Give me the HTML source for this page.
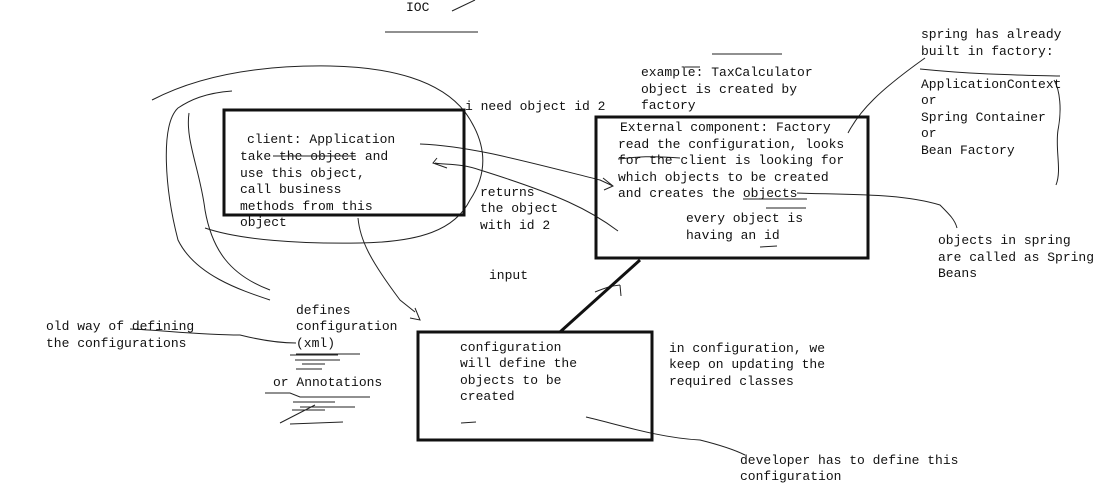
<!DOCTYPE html>
<html><head><meta charset="utf-8"><style>
html,body{margin:0;padding:0;background:#fff;width:1116px;height:502px;overflow:hidden}
svg text{font-family:"Liberation Mono",monospace;font-size:13px;fill:#111}
</style></head><body>
<svg width="1116" height="502" viewBox="0 0 1116 502" xmlns="http://www.w3.org/2000/svg">
<g fill="none" stroke="#222" stroke-width="1">
<path d="M452 11 L475 0"/>
<path d="M385 32 L478 32"/>
<path d="M712 54 L782 54"/>
<!-- ovals around client -->
<path d="M152 100 C200 75 260 65 330 66 C390 67 440 80 465 112 C485 140 490 170 470 200 C455 230 420 242 360 243 C300 244 240 240 205 228"/>
<path d="M232 91 C205 93 190 100 178 108 C160 125 165 190 178 240 C195 275 240 290 270 300"/>
<path d="M189 113 C185 140 200 170 205 210 C212 250 230 275 270 290"/>
<!-- arrows between client and factory -->
<path d="M420 144 C470 146 520 160 600 180 L613 186 M603 178 L613 186 L604 190"/>
<path d="M618 231 C590 210 560 195 480 170 C460 163 445 165 435 163 M437 158 L433 163 L447 168"/>
<path d="M358 218 C360 240 370 260 400 300 L415 312 M415 308 L420 320 L410 318"/>
<path d="M848 133 C860 110 880 90 925 58"/>
<path d="M797 193 C850 195 900 193 940 205 C950 215 955 220 957 228"/>
<path d="M1054 80 C1060 90 1062 110 1058 130 C1055 150 1062 170 1056 185"/>
<path d="M920 69 C980 75 1020 75 1060 76"/>
<path d="M618 159 C630 158 645 155 680 158"/>
<path d="M743 199 L807 199"/>
<path d="M766 208 L806 208"/>
<path d="M760 247 L777 246"/>
<path d="M685 67 L700 67"/>
<path d="M595 292 C605 288 610 286 620 285 M620 285 L621 296"/>
<path d="M130 329 C160 330 200 335 240 335 C260 340 280 343 296 343"/>
<path d="M296 354 L360 354 M290 355 L338 355 M295 360 L340 360 M302 364 L325 364 M296 369 L322 369"/>
<path d="M265 393 L290 393 L300 397 L370 397 M293 402 L335 402 M300 407 L355 407 M292 410 L325 410 M280 423 L315 405 M290 424 L343 422"/>
<path d="M586 417 C620 425 660 438 700 440 C720 445 735 450 745 455"/>
<path d="M461 423 L476 422"/>
</g>
<g fill="none" stroke="#111" stroke-width="3">
<rect x="224" y="110" width="240" height="105"/>
<rect x="596" y="117" width="272" height="141"/>
<rect x="418" y="332" width="234" height="108"/>
<path d="M560 332 L640 260"/>
</g>
<text x="406" y="11">IOC</text>
<text x="465" y="110">i need object id 2</text>
<text x="247" y="143">client: Application</text>
<text x="240" y="160">take the object and</text>
<path d="M273 156 L356 156" stroke="#222"/>
<text x="240" y="177">use this object,</text>
<text x="240" y="193">call business</text>
<text x="240" y="210">methods from this</text>
<text x="240" y="226">object</text>
<text x="480" y="196">returns</text>
<text x="480" y="212">the object</text>
<text x="480" y="229">with id 2</text>
<text x="489" y="279">input</text>
<text x="641" y="76">example: TaxCalculator</text>
<text x="641" y="93">object is created by</text>
<text x="641" y="109">factory</text>
<text x="620" y="131">External component: Factory</text>
<text x="618" y="148">read the configuration, looks</text>
<text x="618" y="164">for the client is looking for</text>
<text x="618" y="181">which objects to be created</text>
<text x="618" y="197">and creates the objects</text>
<text x="686" y="222">every object is</text>
<text x="686" y="239">having an id</text>
<text x="921" y="38">spring has already</text>
<text x="921" y="55">built in factory:</text>
<text x="921" y="88">ApplicationContext</text>
<text x="921" y="104">or</text>
<text x="921" y="121">Spring Container</text>
<text x="921" y="137">or</text>
<text x="921" y="154">Bean Factory</text>
<text x="938" y="244">objects in spring</text>
<text x="938" y="261">are called as Spring</text>
<text x="938" y="277">Beans</text>
<text x="296" y="314">defines</text>
<text x="296" y="330">configuration</text>
<text x="296" y="347">(xml)</text>
<text x="273" y="386">or Annotations</text>
<text x="46" y="330">old way of defining</text>
<text x="46" y="347">the configurations</text>
<text x="460" y="351">configuration</text>
<text x="460" y="367">will define the</text>
<text x="460" y="384">objects to be</text>
<text x="460" y="400">created</text>
<text x="669" y="352">in configuration, we</text>
<text x="669" y="368">keep on updating the</text>
<text x="669" y="385">required classes</text>
<text x="740" y="464">developer has to define this</text>
<text x="740" y="480">configuration</text>
</svg>
</body></html>
